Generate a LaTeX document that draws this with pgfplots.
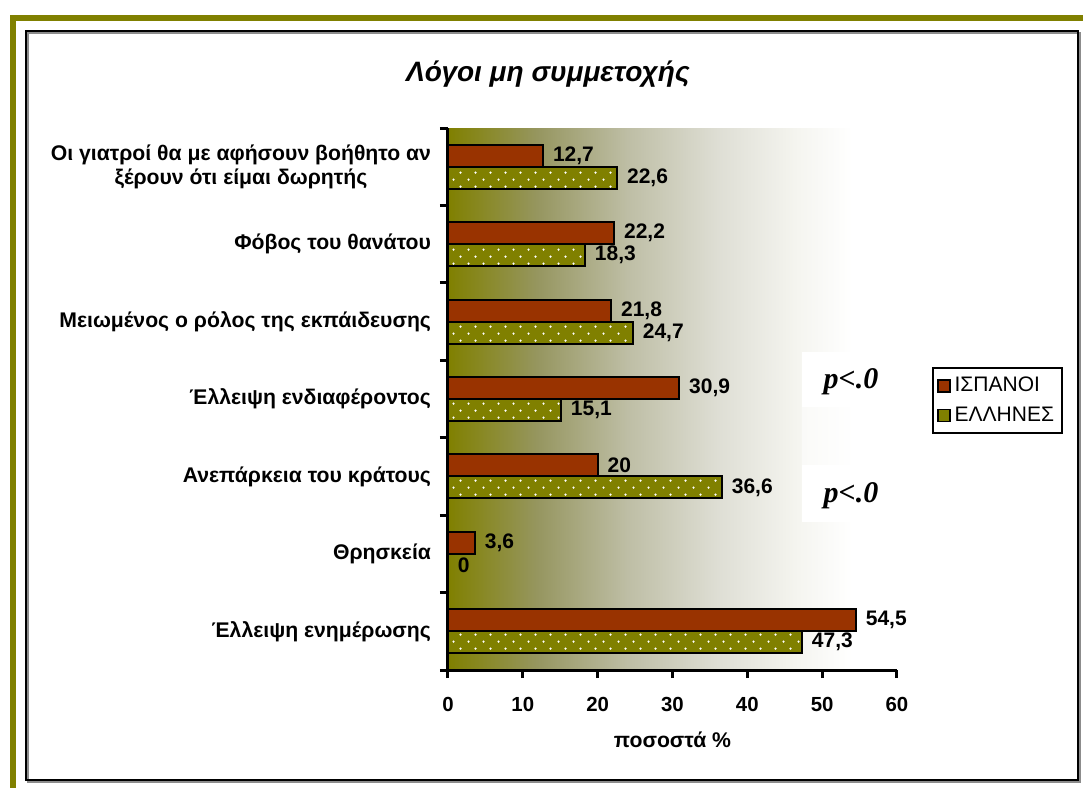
\documentclass[border=0pt]{standalone}
\usepackage{pgfplots}
\pgfplotsset{compat=1.18}
\usepackage{fontspec}
\setmainfont{Liberation Sans}
\newfontfamily\timesbi{Liberation Serif}
\usetikzlibrary{patterns.meta}
\definecolor{olv}{RGB}{128,128,0}
\definecolor{brk}{RGB}{153,51,0}
\definecolor{g1}{RGB}{150,150,96}
\definecolor{g2}{RGB}{190,190,165}
\definecolor{g3}{RGB}{222,222,212}
\definecolor{g4}{RGB}{245,245,240}
\pgfdeclarehorizontalshading{olivegrad}{100bp}{color(0bp)=(olv); color(25bp)=(olv); color(35bp)=(g1); color(45bp)=(g2); color(55bp)=(g3); color(64bp)=(g4); color(70bp)=(white); color(100bp)=(white)}
\tikzdeclarepattern{
  name=sparsedots,
  type=uncolored,
  bottom left={(0pt,0pt)},
  top right={(7.5pt,7.2pt)},
  tile size={(7.5pt,7.2pt)},
  code={\pgfpathcircle{\pgfqpoint{1.875pt}{1.8pt}}{0.65pt}\pgfpathcircle{\pgfqpoint{5.625pt}{5.4pt}}{0.65pt}\pgfusepath{fill}}
}
\pgfplotstableread{
y isp ell
0 54.5 47.3
1 3.6 0
2 20 36.6
3 30.9 15.1
4 21.8 24.7
5 22.2 18.3
6 12.7 22.6
}\data
\begin{document}
\begin{tikzpicture}
\useasboundingbox (0,0) rectangle (541.5pt,-394pt);
\fill[olv] (5pt,-7.5pt) rectangle (541.5pt,-10.4pt);
\fill[olv] (5pt,-7.5pt) rectangle (8pt,-394pt);
\draw[black!45, line width=1pt] (13.8pt,-16.5pt) rectangle (539.8pt,-390.8pt);
\draw[black, line width=1pt] (12.8pt,-15.5pt) rectangle (539pt,-390pt);
\node[font=\fontsize{14}{16}\selectfont\bfseries\itshape] at (274pt,-37pt) {Λόγοι μη συμμετοχής};
\begin{axis}[
  scale only axis, width=224.5pt, height=271pt,
  at={(224pt,-335pt)}, anchor=south west,
  xmin=0, xmax=60, ymin=-0.5, ymax=6.5,
  enlargelimits=false, clip=false,
  axis x line*=bottom, axis y line*=left,
  axis line style={line width=1.5pt},
  axis background/.style={shading=olivegrad},
  xbar, bar width=0.284,
  xtick={0,10,...,60},
  ytick={-0.5,0.5,1.5,2.5,3.5,4.5,5.5,6.5},
  yticklabels={,,,,,,,},
  extra y ticks={0,1,2,3,4,5,6},
  extra y tick labels={{Έλλειψη ενημέρωσης},{Θρησκεία},{Ανεπάρκεια του κράτους},{Έλλειψη ενδιαφέροντος},{Μειωμένος ο ρόλος της εκπάιδευσης},{Φόβος του θανάτου},{Οι γιατροί θα με αφήσουν βοήθητο αν\\ξέρουν ότι είμαι δωρητής}},
  extra y tick style={major tick length=0pt, yticklabel style={align=center, font=\fontsize{10.6}{12}\selectfont\bfseries, xshift=-5pt}},
  tick align=outside, major tick length=4pt,
  tick style={black, line width=1.5pt},
  /pgf/number format/assume math mode=true,
  xticklabel style={font=\fontsize{10.2}{12}\selectfont\bfseries, yshift=-6pt},
  xlabel={ποσοστά \%},
  xlabel style={font=\fontsize{10.6}{12}\selectfont\bfseries, at={(axis description cs:0.5,0)}, anchor=center, yshift=-35pt},
  nodes near coords,
  nodes near coords style={font=\fontsize{10.5}{12}\selectfont\bfseries, anchor=west, inner sep=0pt, xshift=4.5pt,
    /pgf/number format/.cd, use comma, fixed, precision=1, assume math mode=true},
  legend style={at={(1.078,0.559)}, anchor=north west, draw=black, line width=1pt,
    font=\fontsize{10.5}{12}\selectfont, row sep=2pt, inner xsep=2pt, inner ysep=2.5pt,
    legend cell align=left},
  legend image code/.code={\draw[#1, line width=0.8pt] (0pt,-3pt) rectangle (6pt,3pt);},
]
\addplot[fill=brk, draw=black, line width=1pt, bar shift=0.142, forget plot] table[x=isp, y=y] {\data};
\addplot[fill=olv, draw=black, line width=1pt, bar shift=-0.142, forget plot,
  postaction={pattern=sparsedots, pattern color=white}] table[x=ell, y=y] {\data};
\addlegendimage{fill=brk, draw=black}
\addlegendentry{ΙΣΠΑΝΟΙ}
\addlegendimage{fill=olv, draw=black}
\addlegendentry{ΕΛΛΗΝΕΣ}
\end{axis}
\fill[white, opacity=0.5] (401pt,-203.5pt) rectangle (444pt,-232.5pt);
\fill[white] (401pt,-176pt) rectangle (444pt,-203.5pt);
\fill[white] (401pt,-232.5pt) rectangle (444pt,-261pt);
\node[font=\fontsize{15}{17}\selectfont\timesbi\bfseries\itshape] at (425.5pt,-191pt) {p<.0};
\node[font=\fontsize{15}{17}\selectfont\timesbi\bfseries\itshape] at (425.5pt,-248pt) {p<.0};
\end{tikzpicture}
\end{document}
